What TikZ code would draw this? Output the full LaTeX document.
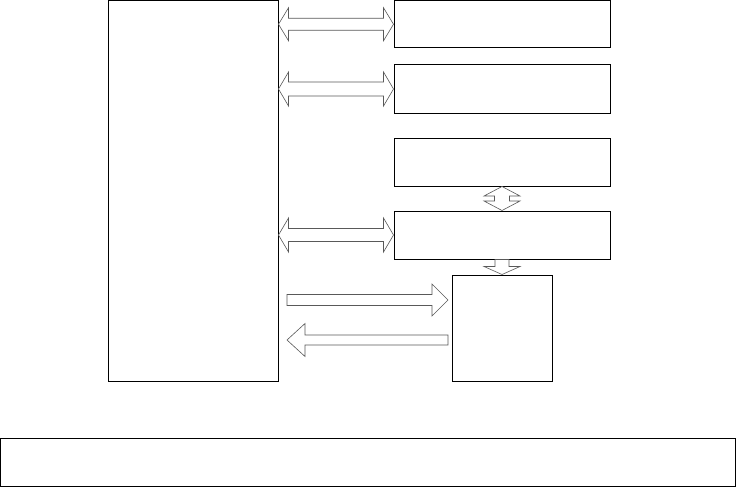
\documentclass[tikz,border=0pt]{standalone}
\usetikzlibrary{calc}
\tikzset{
  box/.style={draw=black, line width=1pt, fill=white, rectangle, inner sep=0pt},
  blk/.style={draw=black!65, line width=0.6pt, fill=white, line join=miter},
}
% horizontal single block arrow: #1 tail, #2 tip, #3 signed head length, #4 head half, #5 shaft half
\newcommand\hblk[5]{\draw[blk] let \p1=(#1), \p2=(#2) in
  (\x1,\y1+#5) -- (\x2-#3,\y1+#5) -- (\x2-#3,\y1+#4) -- (\x2,\y1) --
  (\x2-#3,\y1-#4) -- (\x2-#3,\y1-#5) -- (\x1,\y1-#5) -- cycle;}
% horizontal double block arrow: #1 left tip, #2 right tip
\newcommand\hdblk[5]{\draw[blk] let \p1=(#1), \p2=(#2) in
  (\x1,\y1) -- (\x1+#3,\y1+#4) -- (\x1+#3,\y1+#5) -- (\x2-#3,\y1+#5) --
  (\x2-#3,\y1+#4) -- (\x2,\y1) -- (\x2-#3,\y1-#4) -- (\x2-#3,\y1-#5) --
  (\x1+#3,\y1-#5) -- (\x1+#3,\y1-#4) -- cycle;}
% vertical double block arrow: #1 top tip, #2 bottom tip
\newcommand\vdblk[5]{\draw[blk] let \p1=(#1), \p2=(#2) in
  (\x1,\y1) -- (\x1+#4,\y1-#3) -- (\x1+#5,\y1-#3) -- (\x1+#5,\y2+#3) --
  (\x1+#4,\y2+#3) -- (\x1,\y2) -- (\x1-#4,\y2+#3) -- (\x1-#5,\y2+#3) --
  (\x1-#5,\y1-#3) -- (\x1-#4,\y1-#3) -- cycle;}
% vertical single block arrow pointing down: #1 tail, #2 tip
\newcommand\vblk[5]{\draw[blk] let \p1=(#1), \p2=(#2) in
  (\x1+#5,\y1) -- (\x1+#5,\y2+#3) -- (\x1+#4,\y2+#3) -- (\x1,\y2) --
  (\x1-#4,\y2+#3) -- (\x1-#5,\y2+#3) -- (\x1-#5,\y1) -- cycle;}
\begin{document}
\begin{tikzpicture}[x=1pt,y=-1pt]
\useasboundingbox (0,0) rectangle (736,487);
\fill[white] (0,0) rectangle (736,487);

\node[box, minimum width=170pt, minimum height=380.5pt] (L) at (193,190.75) {};
\node[box, minimum width=216pt, minimum height=47.5pt] (B1) at (502,24.25) {};
\node[box, minimum width=216pt, minimum height=48pt] (B2) at (502,89) {};
\node[box, minimum width=216pt, minimum height=48pt] (B3) at (502,162) {};
\node[box, minimum width=216pt, minimum height=48pt] (B4) at (502,235) {};
\node[box, minimum width=100pt, minimum height=106pt] (B5) at (502,328) {};
\node[box, minimum width=735pt, minimum height=48pt] (BOT) at (368,462) {};

\coordinate (a1) at (L.east |- B1.west);
\coordinate (a2) at (L.east |- B2.west);
\coordinate (a3) at (L.east |- B4.west);
\hdblk{a1}{B1.west}{10pt}{16.5pt}{6pt}
\hdblk{a2}{B2.west}{10pt}{17pt}{7pt}
\hdblk{a3}{B4.west}{10pt}{17pt}{6.5pt}

\vdblk{B3.south}{B4.north}{9.5pt}{18pt}{7.5pt}
\vblk{B4.south}{B5.north}{8pt}{18pt}{7pt}

\coordinate (r1) at (287,300);
\coordinate (r2) at (448,300);
\hblk{r1}{r2}{16pt}{16pt}{5.5pt}
\coordinate (l1) at (448,340);
\coordinate (l2) at (287,340);
\hblk{l1}{l2}{-18pt}{16.5pt}{5pt}
\end{tikzpicture}
\end{document}
